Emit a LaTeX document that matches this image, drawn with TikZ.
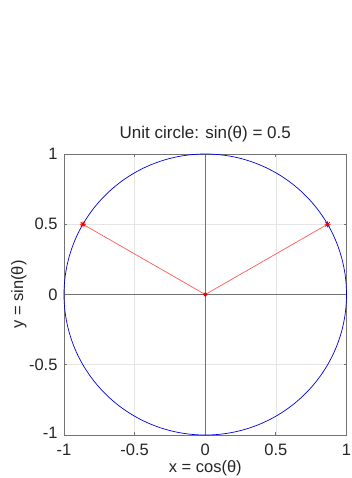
\documentclass[tikz,border=0pt]{standalone}
\usepackage{fontspec}
\setmainfont{Liberation Sans}
\begin{document}
\begin{tikzpicture}[x=1pt,y=1pt,
  lbl/.style={inner sep=0pt,font=\fontsize{16.5}{18}\selectfont,text=black!85},
  ttl/.style={inner sep=0pt,font=\fontsize{17}{19}\selectfont,text=black!85},
  gridl/.style={draw=black!10,line width=0.6pt},
  axl/.style={draw=black!55,line width=0.9pt},
  boxl/.style={draw=black!55,line width=0.8pt},
  circ/.style={draw=blue!85!black,line width=0.7pt},
  ray/.style={draw=red!65,line width=0.7pt},
  dot/.style={inner sep=0pt,minimum size=0pt},
  starmark/.pic={\draw[red!90!black,line width=0.7pt] (-3pt,0pt)--(3pt,0pt) (0pt,-3pt)--(0pt,3pt) (-2.2pt,-2.2pt)--(2.2pt,2.2pt) (-2.2pt,2.2pt)--(2.2pt,-2.2pt);}
]
\useasboundingbox (0,0) rectangle (351,-478);
\fill[white] (0,0) rectangle (351,-478);
\begin{scope}[shift={(205.25,-294.5)},x=141.25pt,y=140.5pt]
  % grid
  \foreach \v in {-0.5,0.5}{
    \draw[gridl] (\v,-1)--(\v,1);
    \draw[gridl] (-1,\v)--(1,\v);
  }
  % axes through origin
  \draw[axl] (0,-1)--(0,1);
  \draw[axl] (-1,0)--(1,0);
  % box
  \draw[boxl] (-1,-1) rectangle (1,1);
  % ticks
  \foreach \v in {-0.5,0,0.5}{
    \draw[boxl] (\v,1)--++(0,-3pt);
    \draw[boxl] (\v,-1)--++(0,3pt);
    \draw[boxl] (1,\v)--++(-3pt,0);
    \draw[boxl] (-1,\v)--++(3pt,0);
  }
  % circle
  \draw[circ] (0,0) circle[x radius=1,y radius=1];
  % points
  \node[dot] (O) at (0,0) {};
  \node[dot] (P1) at (0.8660,0.5) {};
  \node[dot] (P2) at (-0.8660,0.5) {};
  \draw[ray] (O.center)--(P1.center);
  \draw[ray] (O.center)--(P2.center);
  \pic at (P1) {starmark};
  \pic at (P2) {starmark};
  \pic[scale=0.7] at (O) {starmark};
  % tick labels
  \node[lbl,anchor=base] (xt1) at (-1,-1.143) {-1};
  \node[lbl,anchor=base] (xt2) at (-0.5,-1.143) {-0.5};
  \node[lbl,anchor=base] (xt3) at (0,-1.143) {0};
  \node[lbl,anchor=base] (xt4) at (0.5,-1.143) {0.5};
  \node[lbl,anchor=base] (xt5) at (1,-1.143) {1};
  \node[lbl,anchor=east] (yt1) at (-1.045,1) {1};
  \node[lbl,anchor=east] (yt2) at (-1.045,0.5) {0.5};
  \node[lbl,anchor=east] (yt3) at (-1.045,0) {0};
  \node[lbl,anchor=east] (yt4) at (-1.045,-0.5) {-0.5};
  \node[lbl,anchor=east] (yt5) at (-1.045,-0.985) {-1};
  % axis labels and title
  \node[lbl,anchor=base] (xl) at (0,-1.265) {x = cos(θ)};
  \node[lbl,anchor=base,rotate=90] (yl) at (-1.29,0) {y = sin(θ)};
  \node[ttl,anchor=base] (tt) at (0,1.107) {Unit circle: sin(θ) = 0.5};
\end{scope}
\end{tikzpicture}
\end{document}
